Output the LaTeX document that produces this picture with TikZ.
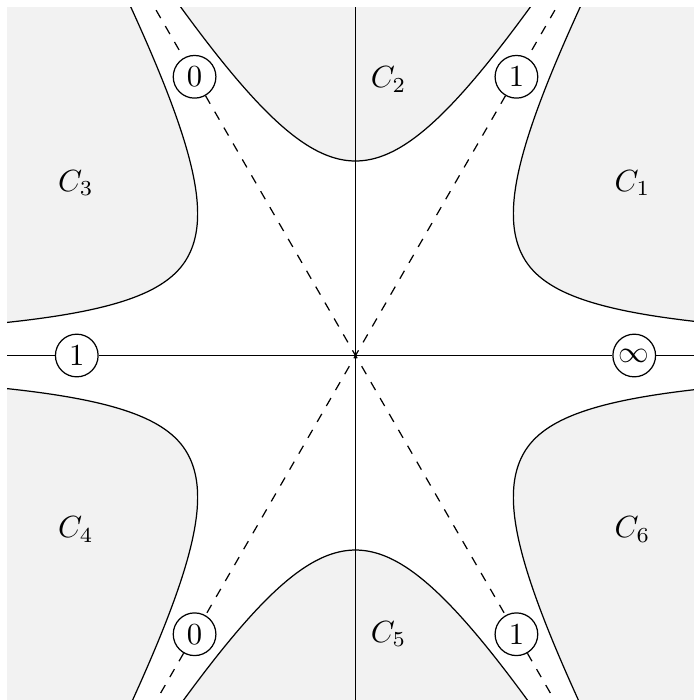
\documentclass[tikz,border=0pt]{standalone}
\tikzset{
  region/.style={fill=black!5},
  fixpt/.style={draw,circle,inner sep=0.5pt,minimum size=0.49cm},
  diag/.style={dashed},
}
\newcommand{\sidebranch}{%
  \fill[region,rotate=30] plot[domain=-1.7:1.7,samples=60,smooth] ({2.233*cosh(\x)},{(\x<0 ? 1.29 : 1.35)*sinh(\x)}) -- (12,3.5) -- (12,-3.5) -- cycle;
  \draw[rotate=30] plot[domain=-1.7:1.7,samples=60,smooth] ({2.233*cosh(\x)},{(\x<0 ? 1.29 : 1.35)*sinh(\x)});
}
\newcommand{\midbranch}{%
  \fill[region,rotate=90] plot[domain=-1.7:1.7,samples=60,smooth] ({2.233*cosh(\x)},{1.35*sinh(\x)}) -- (12,3.5) -- (12,-3.5) -- cycle;
  \draw[rotate=90] plot[domain=-1.7:1.7,samples=60,smooth] ({2.233*cosh(\x)},{1.35*sinh(\x)});
}
\begin{document}
\begin{tikzpicture}
\useasboundingbox (-4.0815,-3.955) rectangle (3.886,4.0815);
\clip (-4,-3.955) rectangle (3.886,4);
\sidebranch
\begin{scope}[xscale=-1]\sidebranch\end{scope}
\begin{scope}[yscale=-1]\sidebranch\end{scope}
\begin{scope}[xscale=-1,yscale=-1]\sidebranch\end{scope}
\midbranch
\begin{scope}[yscale=-1]\midbranch\end{scope}
\coordinate (O) at (0,0);
\coordinate (eW) at (-4,0);
\coordinate (eE) at (4,0);
\coordinate (eN) at (0,4);
\coordinate (eS) at (0,-4);
\coordinate (eNE) at (60:5);
\coordinate (eNW) at (120:5);
\coordinate (eSW) at (240:5);
\coordinate (eSE) at (300:5);
\node[fixpt] (inf) at (3.2,0) {$\infty$};
\node[fixpt] (oneW) at (-3.2,0) {$1$};
\node[fixpt] (oneNE) at (60:3.695) {$1$};
\node[fixpt] (zeroNW) at (120:3.695) {$0$};
\node[fixpt] (zeroSW) at (240:3.695) {$0$};
\node[fixpt] (oneSE) at (300:3.695) {$1$};
\draw (eW) -- (oneW) -- (inf) -- (eE);
\draw (eN) -- (eS);
\draw[diag] (eNE) -- (oneNE) -- (zeroSW) -- (eSW);
\draw[diag] (eNW) -- (zeroNW) -- (oneSE) -- (eSE);
\node (c1) at (3.18,1.98) {$C_1$};
\node (c2) at (0.38,3.17) {$C_2$};
\node (c3) at (-3.21,1.98) {$C_3$};
\node (c4) at (-3.21,-2) {$C_4$};
\node (c5) at (0.38,-3.2) {$C_5$};
\node (c6) at (3.18,-2) {$C_6$};
\end{tikzpicture}
\end{document}
